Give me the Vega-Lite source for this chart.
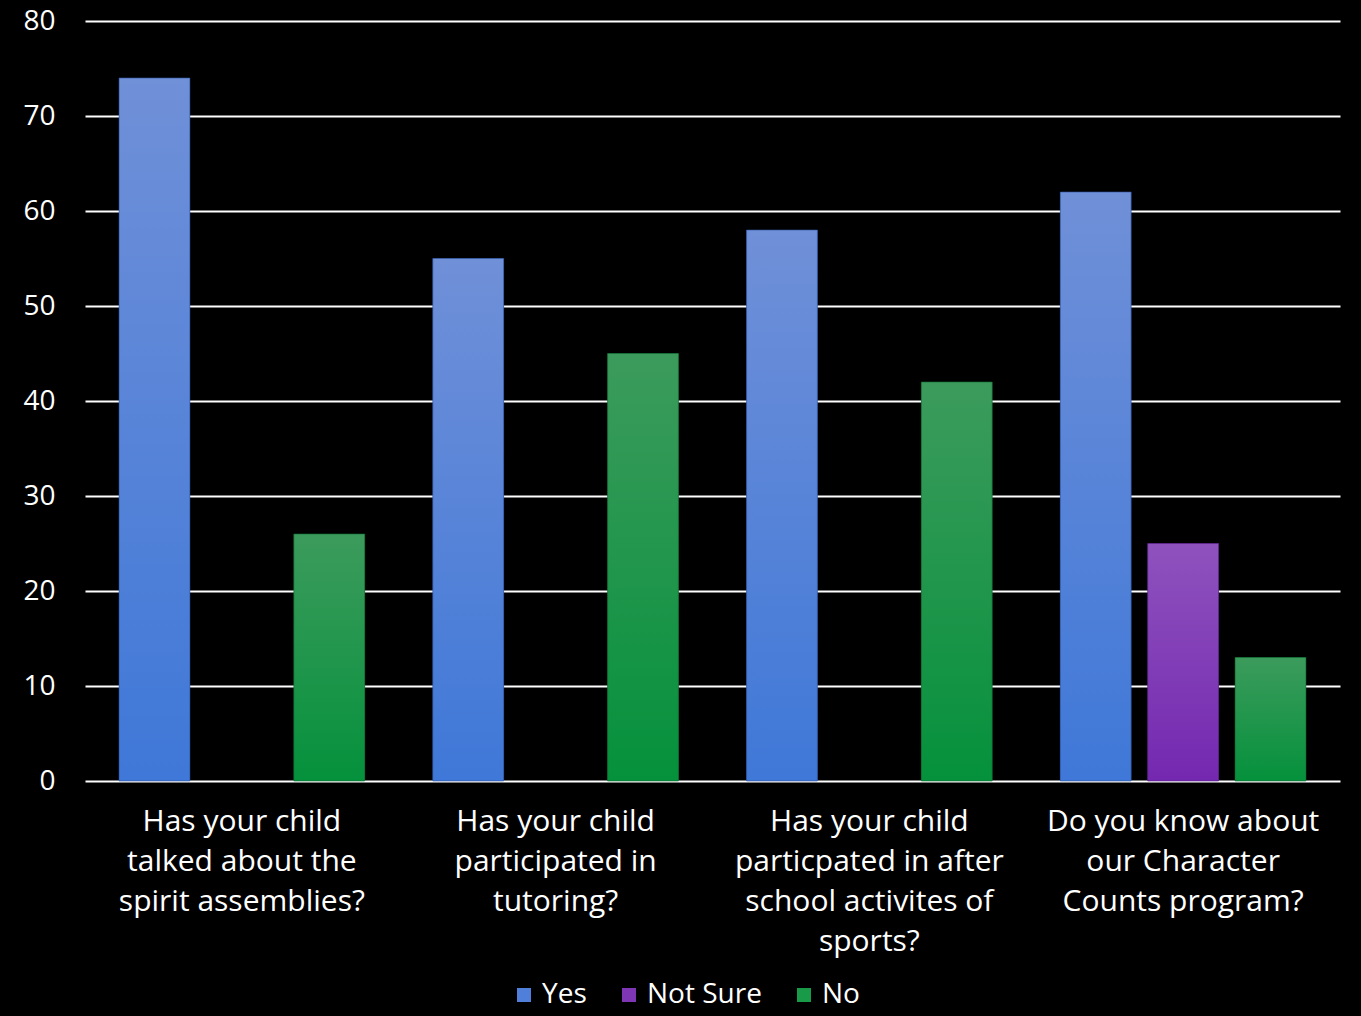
{
  "$schema": "https://vega.github.io/schema/vega-lite/v6.json",
  "autosize": {"type": "none"},
  "width": 1255,
  "height": 760,
  "padding": {"left": 85, "top": 21, "right": 21, "bottom": 235},
  "background": "#000000",
  "config": {
    "view": {"stroke": null},
    "font": "Open Sans",
    "axis": {"labelFont": "Open Sans", "labelColor": "#ffffff"},
    "legend": {"labelFont": "Open Sans", "labelColor": "#ffffff"}
  },
  "data": {
    "values": [
      {"question": "Has your child|talked about the|spirit assemblies?", "series": "Yes", "value": 74},
      {"question": "Has your child|talked about the|spirit assemblies?", "series": "Not Sure", "value": 0},
      {"question": "Has your child|talked about the|spirit assemblies?", "series": "No", "value": 26},
      {"question": "Has your child|participated in|tutoring?", "series": "Yes", "value": 55},
      {"question": "Has your child|participated in|tutoring?", "series": "Not Sure", "value": 0},
      {"question": "Has your child|participated in|tutoring?", "series": "No", "value": 45},
      {"question": "Has your child|particpated in after|school activites of|sports?", "series": "Yes", "value": 58},
      {"question": "Has your child|particpated in after|school activites of|sports?", "series": "Not Sure", "value": 0},
      {"question": "Has your child|particpated in after|school activites of|sports?", "series": "No", "value": 42},
      {"question": "Do you know about|our Character|Counts program?", "series": "Yes", "value": 62},
      {"question": "Do you know about|our Character|Counts program?", "series": "Not Sure", "value": 25},
      {"question": "Do you know about|our Character|Counts program?", "series": "No", "value": 13}
    ]
  },
  "encoding": {
    "x": {
      "field": "question", "type": "nominal", "sort": null,
      "scale": {"paddingInner": 0, "paddingOuter": 0},
      "axis": {
        "title": null, "labelAngle": 0, "labelFontSize": 30, "labelLineHeight": 40,
        "labelPadding": 25, "ticks": false, "domain": false,
        "labelExpr": "split(datum.label, '|')", "labelBaseline": "top", "labelLimit": 400
      }
    },
    "xOffset": {
      "field": "series", "type": "nominal",
      "scale": {"domain": ["Yes", "Not Sure", "No"], "paddingInner": 0.19, "paddingOuter": 0.39}
    },
    "y": {
      "field": "value", "type": "quantitative",
      "scale": {"domain": [0, 80]},
      "axis": {
        "title": null, "values": [0, 10, 20, 30, 40, 50, 60, 70, 80],
        "labelFontSize": 28, "labelPadding": 30, "ticks": false, "domain": false,
        "grid": true, "gridColor": "#ffffff", "gridWidth": 2, "gridOpacity": 1
      }
    }
  },
  "layer": [
    {
      "mark": {"type": "bar"},
      "encoding": {
        "color": {
          "field": "series", "type": "nominal",
          "scale": {"domain": ["Yes", "Not Sure", "No"], "range": ["#4f7fd8", "#7e36b5", "#199a48"]},
          "legend": {
            "title": null, "orient": "none", "direction": "horizontal",
            "legendX": 425, "legendY": 960,
            "symbolType": "square", "symbolSize": 196, "symbolStrokeWidth": 0,
            "labelFontSize": 28, "labelOffset": 4, "columnPadding": 28
          }
        }
      }
    },
    {
      "transform": [{"filter": "datum.series === 'Yes' && datum.value > 0"}],
      "mark": {
        "type": "bar", "stroke": "#2f55a0", "strokeWidth": 1, "strokeOpacity": 0.6,
        "color": {"gradient": "linear", "x1": 0, "y1": 0, "x2": 0, "y2": 1,
          "stops": [{"offset": 0, "color": "#7090d8"}, {"offset": 1, "color": "#3f78d8"}]}
      }
    },
    {
      "transform": [{"filter": "datum.series === 'Not Sure' && datum.value > 0"}],
      "mark": {
        "type": "bar", "stroke": "#55208a", "strokeWidth": 1, "strokeOpacity": 0.6,
        "color": {"gradient": "linear", "x1": 0, "y1": 0, "x2": 0, "y2": 1,
          "stops": [{"offset": 0, "color": "#8e52bd"}, {"offset": 1, "color": "#7428b0"}]}
      }
    },
    {
      "transform": [{"filter": "datum.series === 'No' && datum.value > 0"}],
      "mark": {
        "type": "bar", "stroke": "#0f6a32", "strokeWidth": 1, "strokeOpacity": 0.6,
        "color": {"gradient": "linear", "x1": 0, "y1": 0, "x2": 0, "y2": 1,
          "stops": [{"offset": 0, "color": "#3c9b5c"}, {"offset": 1, "color": "#05913c"}]}
      }
    }
  ]
}
